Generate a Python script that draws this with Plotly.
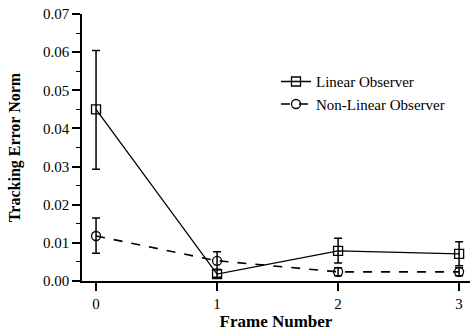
import plotly.graph_objects as go

frames = [0, 1, 2, 3]
linear = [0.045, 0.0018, 0.0079, 0.0071]
linear_hi = [0.0604, 0.0030, 0.0112, 0.0103]
linear_lo = [0.0293, 0.0010, 0.0047, 0.0040]
nonlinear = [0.0118, 0.0053, 0.0024, 0.0024]
nonlinear_hi = [0.0165, 0.0077, 0.0035, 0.0035]
nonlinear_lo = [0.0073, 0.0030, 0.0014, 0.0014]
yticks = [0.0, 0.01, 0.02, 0.03, 0.04, 0.05, 0.06, 0.07]

font = "Liberation Serif"

fig = go.Figure()
fig.add_trace(go.Scatter(
    x=frames, y=linear, name="Linear Observer", mode="lines+markers",
    line=dict(color="black", width=1.3, dash="solid"),
    marker=dict(symbol="square-open", size=9, color="black", line=dict(width=1.3)),
    error_y=dict(type="data", symmetric=False,
                 array=[h - v for h, v in zip(linear_hi, linear)],
                 arrayminus=[v - l for v, l in zip(linear, linear_lo)],
                 color="black", thickness=1.5, width=4),
    cliponaxis=False,
))
fig.add_trace(go.Scatter(
    x=frames, y=nonlinear, name="Non-Linear Observer", mode="lines+markers",
    line=dict(color="black", width=1.6, dash="dash"),
    marker=dict(symbol="circle-open", size=9, color="black", line=dict(width=1.3)),
    error_y=dict(type="data", symmetric=False,
                 array=[h - v for h, v in zip(nonlinear_hi, nonlinear)],
                 arrayminus=[v - l for v, l in zip(nonlinear, nonlinear_lo)],
                 color="black", thickness=1.5, width=4),
    cliponaxis=False,
))

fig.update_layout(
    width=470, height=336,
    margin=dict(l=82, r=0, t=14, b=55),
    paper_bgcolor="white", plot_bgcolor="white",
    font=dict(family=font, size=15, color="black"),
    showlegend=True,
    legend=dict(x=0.50, y=0.705, xanchor="left", yanchor="middle",
                bgcolor="rgba(0,0,0,0)", font=dict(family=font, size=15),
                tracegroupgap=0, itemwidth=30),
    xaxis=dict(
        range=[-0.116, 3.09], tickvals=frames, ticktext=[str(f) for f in frames],
        showgrid=False, zeroline=False, showline=True, linecolor="black", linewidth=1.5,
        ticks="outside", ticklen=8, tickwidth=1.5, tickcolor="black",
        tickfont=dict(family=font, size=15),
        title=dict(text="<b>Frame Number</b>", font=dict(family=font, size=17), standoff=4),
    ),
    yaxis=dict(
        range=[0, 0.07], tickvals=yticks, ticktext=[f"{v:.2f}" for v in yticks],
        showgrid=False, zeroline=False, showline=True, linecolor="black", linewidth=1.5,
        ticks="outside", ticklen=8, tickwidth=1.5, tickcolor="black",
        tickfont=dict(family=font, size=15),
        minor=dict(dtick=0.005, ticks="outside", ticklen=4, tickwidth=1.2, tickcolor="black", showgrid=False),
        title=dict(text="<b>Tracking Error Norm</b>", font=dict(family=font, size=16), standoff=18),
    ),
)

fig.write_html("out.html")
